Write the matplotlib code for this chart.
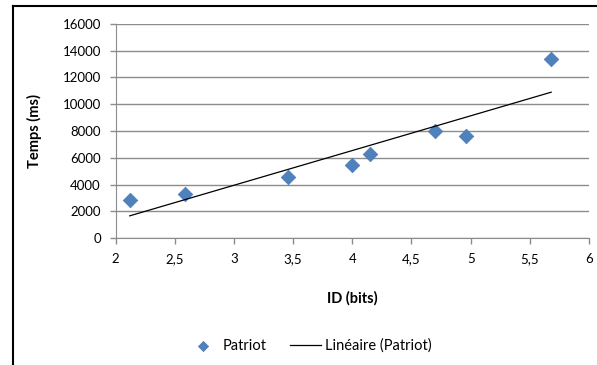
import numpy as np
import matplotlib.pyplot as plt
from matplotlib.lines import Line2D

plt.rcParams['font.family'] = ['Lato', 'DejaVu Sans']

# ID (bits) et temps mesures (ms)
id_bits = [2.12, 2.59, 3.46, 4.00, 4.15, 4.70, 4.96, 5.68]
temps_ms = [2860, 3300, 4550, 5470, 6290, 8000, 7650, 13370]
y_ticks = [0, 2000, 4000, 6000, 8000, 10000, 12000, 14000, 16000]
x_ticks = [2, 2.5, 3, 3.5, 4, 4.5, 5, 5.5, 6]
x_labels = ['2', '2,5', '3', '3,5', '4', '4,5', '5', '5,5', '6']

fig = plt.figure(figsize=(5.97, 3.65), dpi=100)
ax = fig.add_axes([0.1935, 0.3471, 0.7932, 0.5877])

# regression lineaire
a, b = np.polyfit(id_bits, temps_ms, 1)
xs = np.array([min(id_bits), max(id_bits)])

ax.scatter(id_bits, temps_ms, marker='D', s=55, color='#4F81BD',
           edgecolors='#4A7AB5', linewidths=0.5, zorder=3, label='Patriot')
ax.plot(xs, a * xs + b, color='black', lw=0.9, zorder=4,
        label='Linéaire (Patriot)')

ax.set_xlim(2, 6)
ax.set_ylim(0, 16000)
ax.set_xticks(x_ticks)
ax.set_xticklabels(x_labels)
ax.set_yticks(y_ticks)
ax.yaxis.grid(True, color='#8c8c8c', lw=1)
ax.set_axisbelow(True)

for s in ['top', 'right']:
    ax.spines[s].set_visible(False)
for s in ['left', 'bottom']:
    ax.spines[s].set_color('#8c8c8c')
ax.tick_params(axis='both', colors='#8c8c8c', length=4.5, width=1,
               labelcolor='black', labelsize=9.5, pad=6)

ax.set_xlabel('ID (bits)', fontsize=10.5, fontweight='bold', labelpad=19)
ax.set_ylabel('Temps (ms)', fontsize=10.5, fontweight='bold', labelpad=15)

fig.legend(loc='center', bbox_to_anchor=(0.519, 0.052), ncol=2,
           frameon=False, fontsize=10.5, handlelength=2.1,
           handletextpad=0.3, columnspacing=1.6, markerscale=0.7,
           scatterpoints=1)

# cadre du graphique
fig.add_artist(Line2D([0.022, 0.022], [0, 0.984], color='black', lw=1.5,
                      transform=fig.transFigure))
fig.add_artist(Line2D([0.022, 1], [0.984, 0.984], color='black', lw=1.5,
                      transform=fig.transFigure))

fig.savefig('out.png', dpi=100)
